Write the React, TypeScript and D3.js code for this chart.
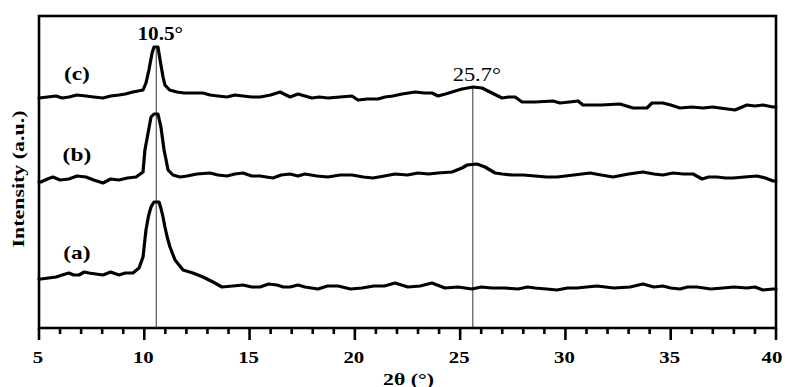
import React from 'react';
import * as d3 from 'd3';

// XRD patterns: [2θ, intensity (a.u.)]
const seriesA: [number, number][] = [
  [5.0, 49], [5.09, 49], [5.45, 50], [5.81, 51], [6.1, 53], [6.42, 55], [6.65, 53], [6.9, 53], [7.15, 56],
  [7.37, 55], [7.7, 54], [8.04, 53], [8.4, 56], [8.8, 53], [9.1, 55], [9.46, 55], [9.75, 60],
  [9.94, 71], [10.08, 98], [10.2, 112], [10.32, 121], [10.46, 126], [10.7, 126], [10.8, 119],
  [10.89, 111], [10.98, 101], [11.1, 90], [11.22, 81], [11.46, 68], [11.84, 58], [12.31, 55],
  [12.79, 51], [13.26, 46], [13.69, 41], [14.2, 42], [14.69, 43], [15.1, 41], [15.5, 41], [15.9, 44],
  [16.3, 43], [16.6, 41], [16.92, 41], [17.3, 43], [17.63, 41], [18.25, 39], [18.7, 42], [19.2, 42],
  [19.8, 39], [20.34, 40], [20.9, 42], [21.4, 42], [21.91, 45], [22.52, 41], [23.1, 42],
  [23.66, 45], [24.28, 40], [24.9, 41], [25.56, 39], [26.0, 41], [26.51, 40], [27.1, 40],
  [27.75, 39], [28.2, 41], [28.56, 40], [29.1, 39], [29.6, 38], [30.1, 40], [30.55, 40],
  [31.0, 41], [31.5, 42], [32.3, 40], [33.07, 41], [33.68, 44], [34.2, 41], [34.63, 42],
  [35.0, 40], [35.44, 39], [35.8, 41], [36.25, 41], [36.9, 39], [37.48, 40], [38.0, 41],
  [38.62, 40], [39.0, 41], [39.38, 38], [39.86, 39], [40.0, 39],
];

const seriesB: [number, number][] = [
  [5.0, 146], [5.09, 146], [5.4, 149], [5.66, 151], [6.0, 148], [6.42, 149], [6.8, 152], [7.23, 151],
  [7.6, 148], [8.04, 145], [8.4, 149], [8.8, 148], [9.2, 150], [9.61, 151], [9.94, 156],
  [10.03, 178], [10.18, 195], [10.32, 211], [10.46, 214], [10.65, 214], [10.79, 201],
  [10.94, 178], [11.13, 158], [11.36, 153], [11.7, 151], [12.03, 152], [12.5, 154], [13.12, 155],
  [13.5, 153], [13.93, 152], [14.3, 154], [14.69, 155], [15.1, 152], [15.5, 152], [16.11, 150],
  [16.5, 153], [16.92, 154], [17.3, 152], [17.63, 154], [18.2, 152], [18.72, 151], [19.3, 153],
  [19.86, 153], [20.4, 151], [20.86, 150], [21.4, 152], [21.91, 154], [22.5, 153], [23.0, 155],
  [23.5, 154], [23.95, 155], [24.61, 156], [25.09, 160], [25.33, 163], [25.8, 164],
  [26.18, 161], [26.66, 155], [27.0, 154], [27.46, 153], [28.0, 153], [28.56, 152], [29.1, 151],
  [29.6, 151], [30.4, 153], [31.17, 155], [31.7, 153], [32.26, 151], [33.0, 154], [33.68, 156],
  [34.2, 154], [34.63, 153], [35.11, 155], [35.6, 154], [36.06, 154], [36.49, 149], [36.8, 151],
  [37.2, 151], [37.6, 150], [37.96, 150], [38.5, 151], [39.1, 152], [39.5, 150], [39.86, 147],
  [40.0, 147],
];

const seriesC: [number, number][] = [
  [5.0, 230], [5.4, 231], [5.81, 232], [6.1, 230], [6.42, 231], [6.8, 233], [7.23, 232],
  [7.6, 231], [8.04, 230], [8.4, 232], [8.8, 233], [9.1, 234], [9.46, 236], [9.94, 238],
  [10.08, 245], [10.22, 258], [10.37, 275], [10.46, 281], [10.65, 281], [10.75, 268],
  [10.89, 251], [10.98, 243], [11.2, 238], [11.55, 236], [11.9, 235], [12.31, 235], [12.79, 235],
  [13.12, 233], [13.5, 232], [13.93, 231], [14.3, 233], [14.69, 232], [15.1, 231], [15.5, 231],
  [16.0, 233], [16.45, 236], [16.92, 231], [17.3, 234], [17.63, 232], [17.96, 230], [18.3, 231],
  [18.72, 230], [19.3, 231], [19.86, 232], [20.15, 228], [20.6, 229], [21.1, 229], [21.43, 231],
  [21.8, 232], [22.24, 234], [22.86, 236], [23.3, 235], [23.66, 235], [23.95, 232], [24.3, 234],
  [24.61, 236], [25.09, 239], [25.61, 241], [26.04, 240], [26.51, 235], [26.99, 230],
  [27.3, 231], [27.61, 231], [27.94, 226], [28.56, 226], [29.41, 227], [29.74, 225],
  [30.2, 226], [30.6, 227], [30.83, 223], [31.7, 223], [32.59, 224], [33.21, 220], [33.87, 220],
  [34.11, 225], [34.63, 225], [35.0, 223], [35.44, 220], [36.0, 221], [36.53, 220], [37.0, 221],
  [37.34, 220], [38.05, 218], [38.62, 223], [39.0, 222], [39.38, 223], [39.86, 221], [40.0, 221],
];

const seriesLabels = ['(a)', '(b)', '(c)'];
const labelPos: [number, number][] = [[6.8, 69], [6.8, 167], [6.8, 248]];

const peakLines = [
  { theta: 10.57, top: 281, label: '10.5°', bold: true },
  { theta: 25.6, top: 242, label: '25.7°', bold: false },
];

const xTicks = [5, 10, 15, 20, 25, 30, 35, 40];
const minorTicks = d3.range(5, 41, 1);

const W = 785;
const H = 387;
const margin = { left: 39, right: 9, top: 16, bottom: 59 };
const FONT = '"Liberation Serif", "Times New Roman", serif';

export default function App() {
  const x = d3.scaleLinear().domain([5, 40]).range([margin.left, W - margin.right]);
  const y = d3.scaleLinear().domain([0, 312]).range([H - margin.bottom, margin.top]);
  const line = d3.line<[number, number]>().x(d => x(d[0])).y(d => y(d[1]));
  const y0 = y(0);
  const all = [seriesA, seriesB, seriesC];

  return (
    <svg width={W} height={H} style={{ position: 'absolute', left: 0, top: 0, background: '#fff' }}
      fontFamily={FONT}>
      {peakLines.map(p => (
        <line key={p.label} x1={x(p.theta)} x2={x(p.theta)} y1={y(p.top)} y2={y0}
          stroke="#555" strokeWidth={1.2} />
      ))}
      {all.map((s, i) => (
        <path key={i} d={line(s) || ''} fill="none" stroke="#000" strokeWidth={3.2}
          strokeLinejoin="round" strokeLinecap="round" />
      ))}
      <rect x={x(5)} y={margin.top} width={x(40) - x(5)} height={y0 - margin.top}
        fill="none" stroke="#000" strokeWidth={2.6} />
      {minorTicks.map(t => (
        <line key={'m' + t} x1={x(t)} x2={x(t)} y1={y0} y2={y0 + (xTicks.includes(t) ? 12 : 6)}
          stroke="#000" strokeWidth={2.6} />
      ))}
      {xTicks.map(t => (
        <g key={'t' + t} transform={`translate(${x(t) - (t === 40 ? 4 : 1)},${y0 + 35}) scale(1.3,1)`}>
          <text textAnchor="middle" fontSize={16} fontWeight="bold">{t}</text>
        </g>
      ))}
      <g transform={`translate(${(x(5) + x(40)) / 2 + 1},${H - 2}) scale(1.28,1)`}>
        <text textAnchor="middle" fontSize={17} fontWeight="bold">2θ (°)</text>
      </g>
      <g transform={`translate(24,${(margin.top + y0) / 2 + 7}) rotate(-90) scale(1.29,1)`}>
        <text textAnchor="middle" fontSize={17} fontWeight="bold">Intensity (a.u.)</text>
      </g>
      {seriesLabels.map((l, i) => (
        <g key={l} transform={`translate(${x(labelPos[i][0])},${y(labelPos[i][1])}) scale(1.3,1)`}>
          <text textAnchor="middle" fontSize={18} fontWeight="bold">{l}</text>
        </g>
      ))}
      {peakLines.map(p => (
        <g key={'l' + p.label} transform={`translate(${x(p.theta) + 4},${p.bold ? 40 : 81}) scale(1.18,1)`}>
          <text textAnchor="middle" fontSize={p.bold ? 18 : 19} fontWeight={p.bold ? 'bold' : 'normal'}>
            {p.label}
          </text>
        </g>
      ))}
    </svg>
  );
}
